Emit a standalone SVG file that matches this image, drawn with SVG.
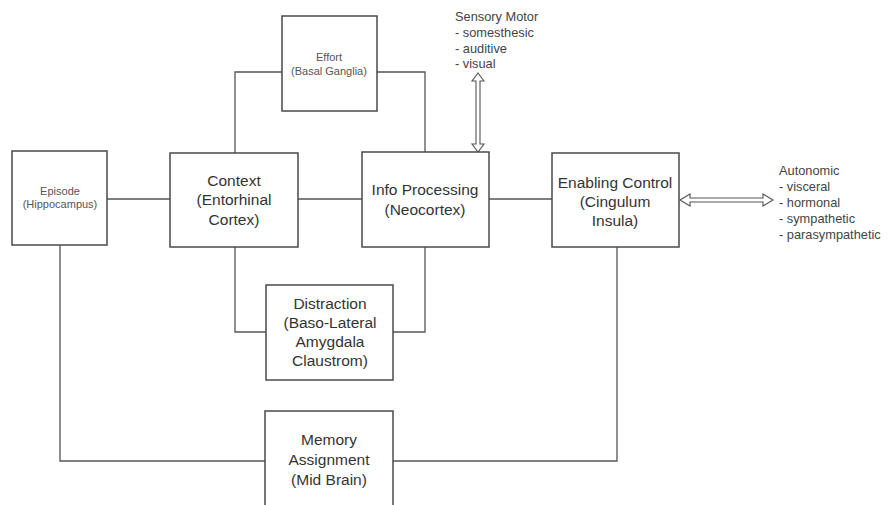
<svg xmlns="http://www.w3.org/2000/svg" width="892" height="505" viewBox="0 0 892 505">
  <style>
    .box { fill: #ffffff; stroke: #4a4a4a; stroke-width: 1.5; }
    .wire { fill: none; stroke: #555555; stroke-width: 1.3; }
    .dbl { fill: #ffffff; stroke: #555555; stroke-width: 1.1; stroke-linejoin: miter; }
    .lbl { font-family: "Liberation Sans", Arial, sans-serif; font-size: 15.5px; fill: #333333; text-anchor: middle; }
    .sm { font-family: "Liberation Sans", Arial, sans-serif; font-size: 11px; fill: #555555; text-anchor: middle; }
    .side { font-family: "Liberation Sans", Arial, sans-serif; font-size: 12.8px; fill: #444444; }
  </style>
  <rect width="892" height="505" fill="#ffffff"/>

  <!-- connectors -->
  <g id="connectors">
    <line class="wire" x1="107" y1="199" x2="170" y2="199"/>
    <line class="wire" x1="298" y1="199" x2="362" y2="199"/>
    <line class="wire" x1="489" y1="199" x2="552" y2="199"/>
    <polyline class="wire" points="282,72 235,72 235,153"/>
    <polyline class="wire" points="377,72 425,72 425,152"/>
    <polyline class="wire" points="235,247 235,332 266,332"/>
    <polyline class="wire" points="425,247 425,332 393,332"/>
    <polyline class="wire" points="60,245 60,461 265,461"/>
    <polyline class="wire" points="617,247 617,461 393,461"/>
    <!-- hollow double-headed arrows -->
    <polygon class="dbl" points="478,73 484,81 480,81 480,144 484,144 478,152 472,144 476,144 476,81 472,81"/>
    <polygon class="dbl" points="680,200 690,194 690,198 763,198 763,194 773,200 763,206 763,202 690,202 690,206"/>
  </g>

  <g id="episode">
    <rect class="box" x="12" y="151" width="95" height="94"/>
    <text class="sm" x="60" y="195">Episode</text>
    <text class="sm" x="60" y="208">(Hippocampus)</text>
  </g>

  <g id="effort">
    <rect class="box" x="282" y="16" width="95" height="95"/>
    <text class="sm" x="329" y="61">Effort</text>
    <text class="sm" x="329" y="75">(Basal Ganglia)</text>
  </g>

  <g id="context">
    <rect class="box" x="170" y="153" width="128" height="94"/>
    <text class="lbl" x="234" y="186">Context</text>
    <text class="lbl" x="234" y="205">(Entorhinal</text>
    <text class="lbl" x="234" y="225">Cortex)</text>
  </g>

  <g id="info-processing">
    <rect class="box" x="362" y="152" width="127" height="95"/>
    <text class="lbl" x="425" y="195">Info Processing</text>
    <text class="lbl" x="425" y="215">(Neocortex)</text>
  </g>

  <g id="enabling-control">
    <rect class="box" x="552" y="153" width="127" height="94"/>
    <text class="lbl" x="615" y="188">Enabling Control</text>
    <text class="lbl" x="615" y="207">(Cingulum</text>
    <text class="lbl" x="615" y="226">Insula)</text>
  </g>

  <g id="distraction">
    <rect class="box" x="266" y="285" width="127" height="95"/>
    <text class="lbl" x="330" y="309">Distraction</text>
    <text class="lbl" x="330" y="328">(Baso-Lateral</text>
    <text class="lbl" x="330" y="347">Amygdala</text>
    <text class="lbl" x="330" y="366">Claustrom)</text>
  </g>

  <g id="memory-assignment">
    <rect class="box" x="265" y="411" width="128" height="110"/>
    <text class="lbl" x="329" y="445">Memory</text>
    <text class="lbl" x="329" y="465">Assignment</text>
    <text class="lbl" x="329" y="485">(Mid Brain)</text>
  </g>

  <g id="sensory-motor">
    <text class="side" x="455" y="21">Sensory Motor</text>
    <text class="side" x="455" y="37">- somesthesic</text>
    <text class="side" x="455" y="53">- auditive</text>
    <text class="side" x="455" y="68">- visual</text>
  </g>

  <g id="autonomic">
    <text class="side" x="779" y="175">Autonomic</text>
    <text class="side" x="779" y="191">- visceral</text>
    <text class="side" x="779" y="207">- hormonal</text>
    <text class="side" x="779" y="223">- sympathetic</text>
    <text class="side" x="779" y="239">- parasympathetic</text>
  </g>
</svg>
